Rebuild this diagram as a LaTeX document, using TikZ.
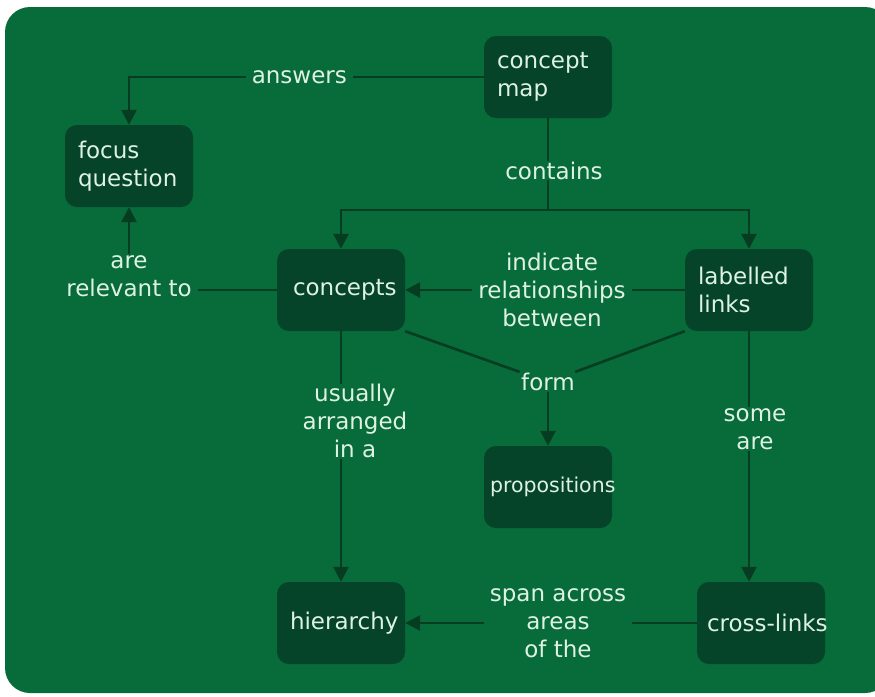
\documentclass[tikz,border=0pt]{standalone}
\usepackage{fontspec}
\setmainfont{DejaVu Sans}
\usepackage{tikz}
\usetikzlibrary{arrows.meta}
\usetikzlibrary{positioning}
\usetikzlibrary{calc}
\definecolor{mapbg}{RGB}{8,107,58}
\definecolor{boxfill}{RGB}{5,68,40}
\definecolor{linkcol}{RGB}{5,60,34}
\definecolor{txt}{RGB}{222,242,228}
\hyphenpenalty=10000
\exhyphenpenalty=10000
\tikzset{every picture/.style={x=1pt,y=-1pt},
  concept/.style={fill=boxfill,rounded corners=12pt,minimum width=128pt,minimum height=82pt,text width=102pt,align=left,inner xsep=13pt,inner ysep=14pt,text=txt,font=\fontsize{23}{28}\selectfont},
  lbl/.style={fill=mapbg,text=txt,align=center,inner xsep=6pt,inner ysep=1pt,font=\fontsize{23}{28}\selectfont},
  plain/.style={draw=linkcol,line width=2.6pt},
  link/.style={plain,-{Triangle[width=15pt,length=15pt]}}}
\begin{document}
\begin{tikzpicture}
\useasboundingbox (0,0) rectangle (875,696);
\fill[white] (0,0) rectangle (875,696);
\fill[mapbg,rounded corners=25pt] (5,7) rectangle (890,693);
\node[concept] (cmap) at (548,77) {concept\\map};
\node[concept] (focus) at (129,166) {focus\\question};
\node[concept] (concepts) at (341,290) {\mbox{\hspace*{3pt}concepts}};
\node[concept] (links) at (749,290) {labelled\\links};
\node[concept,text width=122pt,inner xsep=3pt,font=\fontsize{20.5}{24}\selectfont] (props) at (548,487) {\mbox{\hspace*{3pt}propositions}};
\node[concept] (hier) at (341,623) {\mbox{hierarchy}};
\node[concept,inner xsep=10pt,text width=108pt] (cross) at (761,623) {\mbox{cross-links}};
\coordinate (split) at (548,210);
\draw[link] (cmap.west) -| (focus.north) node[lbl,pos=0.26] {answers};
\draw[plain] (cmap.south) -- (split) node[lbl,pos=0.57,xshift=6pt] {contains};
\draw[link] (split) -| (concepts.north);
\draw[link] (split) -| (links.north);
\draw[link] (concepts.west) -| (focus.south) node[lbl,pos=0.5,yshift=14pt] {are\\relevant to};
\draw[link] (links.west) -- (concepts.east) node[lbl,midway,xshift=7pt] {indicate\\relationships\\between};
\node[lbl] (form) at (548,382) {form};
\draw[plain] (concepts.south east) -- (form);
\draw[plain] (links.south west) -- (form);
\draw[link] (form) -- (props.north);
\draw[link] (concepts.south) -- (hier.north) node[lbl,pos=0.36,xshift=14pt] {usually\\arranged\\in a};
\draw[link] (links.south) -- (links.south |- cross.north) node[lbl,pos=0.39,xshift=6pt] {some\\are};
\draw[link] (cross.west) -- (hier.east) node[lbl,midway,xshift=7pt] {span across\\areas\\of the};
\end{tikzpicture}
\end{document}
